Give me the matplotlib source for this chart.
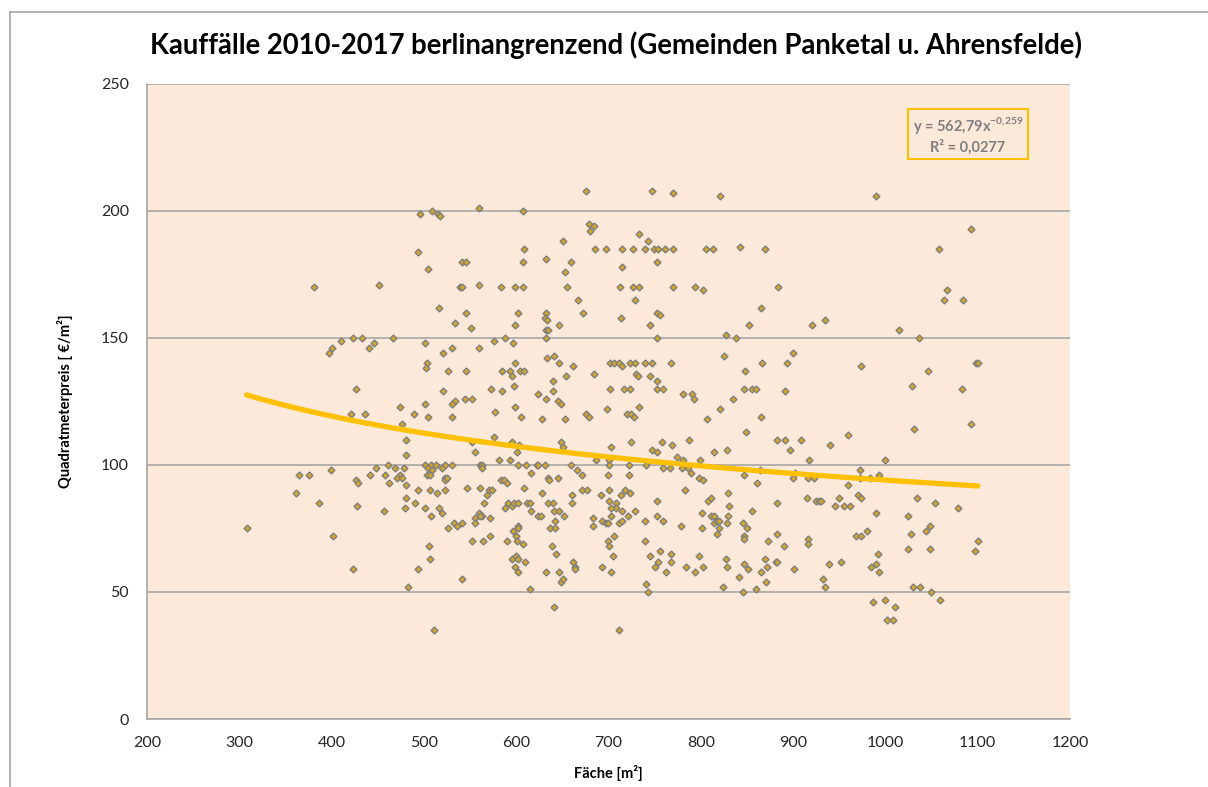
import numpy as np
import matplotlib
matplotlib.use("Agg")
import matplotlib.pyplot as plt
from matplotlib.lines import Line2D

plt.rcParams['font.family'] = ['Lato', 'DejaVu Sans']

# Fläche [m²] und Quadratmeterpreis [€/m²] der Kauffälle
flaeche = [
    496, 509, 515, 517, 494, 504, 381, 451, 516, 410, 423, 433, 446, 467, 501, 441, 400, 397, 521, 503,
    502, 526, 426, 521, 501, 474,
    676, 747, 560, 607, 679, 684, 680, 733, 743, 651,
    685, 697, 715, 727, 739, 749, 754, 761, 608, 541,
    546, 607, 632, 659, 753, 715, 653, 539, 541, 560,
    583, 599, 607, 655, 712, 727, 733, 667, 729, 546,
    602, 672, 632, 631, 633, 752, 756, 534, 551, 599,
    646, 713, 745, 632, 634, 632, 588, 576, 597, 753,
    530, 560, 641, 633, 646, 599, 662, 702, 706, 711,
    715, 723, 729, 740, 747, 546, 585, 593, 595, 604,
    608, 654, 684, 730, 732, 745, 752, 640, 573, 585,
    598, 624, 640, 632, 645, 648, 702, 717, 723, 753,
    759, 733, 698, 545, 552, 534, 530, 599,
    770, 821, 990, 770, 806, 813, 842, 869, 770, 794, 802, 884, 865, 852, 920, 935, 827, 838, 825, 900,
    768, 866, 893, 973, 848, 781, 790, 793, 847, 855, 860, 891, 835, 821,
    1093, 1058, 1067, 1063, 1084, 1015, 1036, 1098, 1100, 1046, 1029, 1083,
    421, 436, 489, 504, 476, 481, 481, 461, 448, 469,
    478, 501, 508, 513, 523, 504, 509, 520, 399, 365,
    376, 442, 458, 474, 471, 476, 503, 507, 523, 523,
    525, 426, 429, 462, 481, 494, 507, 514, 523, 361,
    386, 427, 481, 480, 457, 490, 501, 516, 520, 508,
    526, 308, 401, 505, 507, 423, 494, 483, 511,
    530, 577, 605, 628, 653, 676, 679, 720, 724, 728,
    576, 552, 555, 595, 603, 601, 593, 581, 649, 651,
    703, 724, 686, 701, 747, 753, 758, 530, 561, 563,
    563, 602, 611, 622, 624, 631, 616, 659, 666, 671,
    701, 699, 722, 722, 741, 759, 584, 587, 590, 634,
    636, 645, 547, 561, 568, 571, 574, 565, 608, 628,
    660, 660, 671, 677, 692, 701, 701, 708, 708, 703,
    714, 718, 723, 715, 721, 729, 753, 588, 591, 595,
    598, 602, 612, 615, 616, 634, 640, 641, 646, 652,
    624, 627, 642, 560, 563, 561, 555, 555, 572, 533,
    536, 541, 683, 683, 693, 697, 699, 703, 711, 715,
    740, 753, 759, 602, 602, 596, 600, 637, 642, 572,
    552, 564, 590, 601, 607, 639, 643, 699, 701, 706,
    705, 740, 745, 750, 754, 756, 762, 595, 600, 602,
    599, 602, 609, 632, 646, 648, 651, 661, 664, 664,
    693, 703, 541, 615, 741, 743, 641, 711,
    865, 807, 849, 787, 769, 814, 828, 883, 891, 908,
    897, 940, 959, 917, 1000, 774, 781, 767, 780, 786,
    789, 799, 798, 802, 847, 864, 861, 900, 902, 916,
    923, 959, 972, 972, 983, 993, 783, 808, 811, 829,
    830, 883, 915, 925, 928, 930, 950, 945, 955, 962,
    970, 974, 990, 801, 801, 778, 811, 814, 814, 817,
    820, 820, 817, 829, 828, 855, 846, 850, 847, 847,
    873, 883, 890, 916, 916, 968, 973, 980, 768, 768,
    784, 794, 802, 798, 827, 828, 847, 851, 841, 865,
    871, 872, 870, 881, 882, 901, 939, 952, 932, 935,
    824, 860, 846, 984, 990, 993, 992, 986, 1000, 1002,
    1031, 1093, 1034, 1054, 1079, 1024, 1028, 1044, 1048, 1024,
    1048, 1100, 1097, 1030, 1037, 1049, 1059, 1010, 1008,
]
preis = [
    199, 200, 199, 198, 184, 177, 170, 171, 162, 149, 150, 150, 148, 150, 148, 146, 146, 144, 144, 140,
    138, 137, 130, 129, 124, 123,
    208, 208, 201, 200, 195, 194, 192, 191, 188, 188,
    185, 185, 185, 185, 185, 185, 185, 185, 185, 180,
    180, 180, 181, 180, 180, 178, 176, 170, 170, 171,
    170, 170, 170, 170, 170, 170, 170, 165, 165, 160,
    160, 160, 160, 158, 157, 160, 159, 156, 154, 155,
    155, 158, 155, 153, 153, 150, 150, 149, 148, 150,
    146, 146, 143, 142, 140, 140, 139, 140, 140, 140,
    139, 140, 140, 140, 140, 137, 137, 137, 135, 137,
    137, 135, 136, 136, 135, 135, 133, 133, 130, 129,
    131, 128, 129, 126, 125, 124, 130, 130, 130, 130,
    130, 123, 122, 126, 126, 125, 124, 123,
    207, 206, 206, 185, 185, 185, 186, 185, 170, 170, 169, 170, 162, 155, 155, 157, 151, 150, 143, 144,
    140, 140, 140, 139, 137, 128, 128, 126, 130, 130, 130, 129, 126, 122,
    193, 185, 169, 165, 165, 153, 150, 140, 140, 137, 131, 130,
    120, 120, 120, 119, 116, 110, 104, 100, 99, 99,
    99, 100, 100, 100, 100, 99, 98, 99, 98, 96,
    96, 96, 96, 96, 95, 95, 96, 96, 95, 94,
    95, 94, 93, 93, 92, 90, 90, 89, 90, 89,
    85, 84, 87, 83, 82, 85, 83, 83, 81, 80,
    75, 75, 72, 68, 63, 59, 59, 52, 35,
    119, 121, 119, 118, 118, 120, 119, 120, 120, 119,
    111, 109, 105, 109, 108, 105, 102, 102, 109, 107,
    107, 109, 102, 102, 106, 105, 109, 100, 100, 100,
    99, 100, 100, 100, 100, 100, 97, 100, 98, 96,
    100, 96, 100, 96, 100, 99, 94, 94, 93, 95,
    94, 95, 91, 91, 88, 90, 90, 85, 91, 89,
    88, 85, 90, 90, 88, 90, 86, 85, 83, 83,
    88, 90, 89, 82, 80, 82, 86, 83, 85, 84,
    85, 85, 85, 85, 82, 85, 85, 82, 82, 80,
    80, 80, 78, 81, 80, 80, 79, 77, 79, 77,
    76, 77, 79, 76, 78, 77, 77, 80, 77, 78,
    78, 80, 78, 76, 75, 74, 72, 75, 75, 72,
    70, 70, 70, 70, 69, 68, 65, 70, 68, 72,
    64, 70, 64, 60, 62, 66, 58, 63, 64, 63,
    60, 58, 62, 58, 58, 54, 55, 62, 60, 59,
    60, 58, 55, 51, 53, 50, 44, 35,
    119, 118, 113, 110, 108, 105, 106, 110, 110, 110,
    106, 108, 112, 102, 102, 103, 102, 99, 99, 99,
    97, 102, 95, 94, 96, 98, 93, 95, 97, 95,
    95, 92, 98, 95, 95, 96, 90, 86, 87, 89,
    84, 85, 87, 86, 86, 86, 87, 84, 84, 84,
    88, 87, 81, 81, 75, 76, 80, 80, 77, 78,
    78, 75, 73, 80, 77, 82, 77, 75, 72, 71,
    70, 73, 68, 71, 69, 72, 72, 74, 65, 62,
    60, 58, 60, 64, 63, 60, 61, 59, 56, 58,
    54, 60, 63, 62, 62, 59, 61, 62, 55, 52,
    52, 51, 50, 60, 61, 58, 65, 46, 47, 39,
    114, 116, 87, 85, 83, 80, 73, 74, 76, 67,
    67, 70, 66, 52, 52, 50, 47, 44, 39,
]

# Potenz-Trendlinie aus der Grafik: y = 562,79 * x^-0,259
trend_a = 562.79
trend_b = -0.259

fig = plt.figure(figsize=(12.08, 7.87), dpi=100)
ax = fig.add_axes([0.1217, 0.0864, 0.7641, 0.8069])
ax.set_facecolor('#FDE9D9')

ax.plot(flaeche, preis, linestyle='none', marker='D', markersize=3.5,
        markerfacecolor='#D4A62A', markeredgecolor='#7F7F7F', markeredgewidth=1.0, zorder=2)

xs = np.linspace(min(flaeche), max(flaeche), 200)
ax.plot(xs, trend_a * xs ** trend_b, color='#FFC000', linewidth=3.8, solid_capstyle='round', zorder=3)

ax.set_xlim(200, 1200)
ax.set_ylim(0, 250)
ax.set_xticks(range(200, 1201, 100))
ax.set_yticks(range(0, 251, 50))
ax.yaxis.grid(True, color='#A6A6A6', linewidth=1.2)
ax.set_axisbelow(True)
for s in ['top', 'right']:
    ax.spines[s].set_visible(False)
for s in ['left', 'bottom']:
    ax.spines[s].set_color('#A6A6A6')
    ax.spines[s].set_linewidth(1.2)
ax.tick_params(length=0, labelsize=11.5, labelcolor='#262626')
ax.tick_params(axis='x', pad=12)
ax.tick_params(axis='y', pad=13)

ax.set_xlabel('Fäche [m²]', fontsize=10.5, fontweight='bold', labelpad=11)
ax.set_ylabel('Quadratmeterpreis [ €/m²]', fontsize=10.5, fontweight='bold', labelpad=20)

fig.text(0.51, 0.943, 'Kauffälle 2010-2017 berlinangrenzend (Gemeinden Panketal u. Ahrensfelde)',
         ha='center', va='center', fontsize=19.8, fontweight='bold')

fig.text(0.8013, 0.8285, 'y = 562,79x$^{\\mathregular{-0{,}259}}$\nR² = 0,0277',
         ha='center', va='center', fontsize=10.5, fontweight='bold', color='#7F7F7F',
         linespacing=1.3,
         bbox=dict(boxstyle='square,pad=0.3', facecolor='#FDE9D9', edgecolor='#FFC000', linewidth=1.5))

# Rahmen des Diagrammbereichs (im Original angeschnitten)
fy = 1 - 12 / 787
fx = 10 / 1208
fig.add_artist(Line2D([fx, 1.0], [fy, fy], color='#A6A6A6', linewidth=1.2))
fig.add_artist(Line2D([fx, fx], [0.0, fy], color='#A6A6A6', linewidth=1.2))

fig.savefig('out.png', dpi=100)
